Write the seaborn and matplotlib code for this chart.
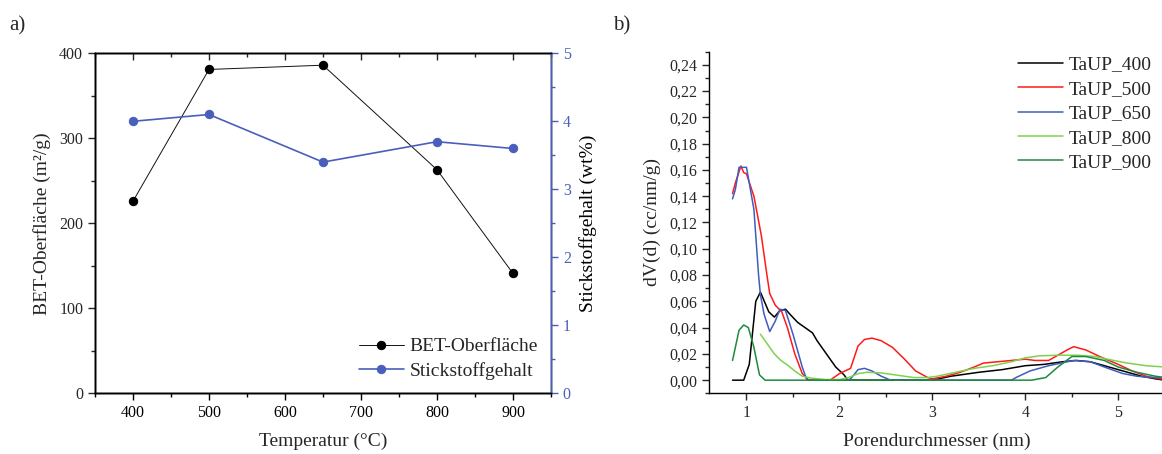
import numpy as np
import pandas as pd
import matplotlib
matplotlib.use("Agg")
import matplotlib.pyplot as plt
import seaborn as sns
from matplotlib.ticker import MultipleLocator, FuncFormatter

# ---------------- data: panel a ----------------
temperature = [400, 500, 650, 800, 900]
bet_surface = [226, 381, 386, 263, 141]
nitrogen = [4.0, 4.1, 3.4, 3.7, 3.6]

# ---------------- data: panel b ----------------
d_400 = [0.85, 0.97, 1.03, 1.10, 1.15, 1.24, 1.30, 1.36, 1.42, 1.47, 1.55, 1.63, 1.71, 1.76, 1.86, 1.96, 2.05, 2.09,
         2.5, 3.0, 3.2, 3.5, 3.75, 4.0, 4.2, 4.4, 4.55, 4.7, 4.9, 5.1, 5.25, 5.4, 5.5]
v_400 = [0.0, 0.0, 0.012, 0.060, 0.067, 0.052, 0.048, 0.053, 0.054, 0.050, 0.044, 0.040, 0.036, 0.030, 0.020, 0.010, 0.004, 0.0,
         0.0, 0.0, 0.003, 0.006, 0.008, 0.011, 0.012, 0.014, 0.015, 0.014, 0.010, 0.006, 0.003, 0.001, 0.0]

d_500 = [0.85, 0.88, 0.94, 0.97, 1.00, 1.08, 1.16, 1.22, 1.25, 1.31, 1.38, 1.44, 1.52, 1.60, 1.67, 1.90, 2.00, 2.12,
         2.20, 2.27, 2.35, 2.45, 2.57, 2.70, 2.82, 2.95, 3.00, 3.15, 3.30, 3.45, 3.55, 3.70, 3.85, 4.00, 4.10, 4.25,
         4.35, 4.45, 4.52, 4.65, 4.80, 5.00, 5.15, 5.30, 5.45, 5.5]
v_500 = [0.142, 0.150, 0.163, 0.158, 0.157, 0.140, 0.110, 0.080, 0.066, 0.057, 0.052, 0.040, 0.020, 0.005, 0.0, 0.0, 0.005, 0.009,
         0.026, 0.031, 0.032, 0.030, 0.025, 0.016, 0.007, 0.002, 0.001, 0.003, 0.006, 0.010, 0.013, 0.014, 0.015, 0.016, 0.015, 0.015,
         0.019, 0.023, 0.0255, 0.023, 0.018, 0.012, 0.007, 0.003, 0.001, 0.001]

d_650 = [0.85, 0.88, 0.92, 1.00, 1.08, 1.13, 1.15, 1.19, 1.25, 1.31, 1.36, 1.42, 1.50, 1.60, 1.65, 2.08, 2.12, 2.20,
         2.27, 2.35, 2.45, 2.55, 3.85, 3.90, 4.05, 4.25, 4.45, 4.52, 4.70, 4.85, 5.05, 5.20, 5.35, 5.5]
v_650 = [0.138, 0.145, 0.162, 0.162, 0.130, 0.080, 0.065, 0.050, 0.037, 0.045, 0.054, 0.053, 0.035, 0.010, 0.0, 0.0, 0.001, 0.008,
         0.009, 0.007, 0.003, 0.0, 0.0, 0.002, 0.007, 0.011, 0.014, 0.015, 0.014, 0.010, 0.005, 0.003, 0.002, 0.002]

d_800 = [1.15, 1.22, 1.30, 1.37, 1.45, 1.52, 1.60, 1.70, 1.85, 2.00, 2.10, 2.20, 2.30, 2.45, 2.60, 2.80, 2.95, 3.05,
         3.25, 3.45, 3.65, 3.85, 4.00, 4.15, 4.35, 4.55, 4.75, 4.95, 5.10, 5.30, 5.5]
v_800 = [0.035, 0.028, 0.020, 0.015, 0.011, 0.007, 0.003, 0.0015, 0.0005, 0.0005, 0.002, 0.005, 0.006, 0.0055, 0.004, 0.002, 0.002, 0.003,
         0.006, 0.009, 0.011, 0.014, 0.017, 0.0185, 0.019, 0.019, 0.018, 0.015, 0.013, 0.011, 0.010]

d_900 = [0.85, 0.92, 0.97, 1.02, 1.08, 1.14, 1.20, 4.07, 4.22, 4.35, 4.50, 4.65, 4.85, 5.00, 5.20, 5.40, 5.5]
v_900 = [0.015, 0.038, 0.042, 0.040, 0.025, 0.004, 0.0, 0.0, 0.002, 0.010, 0.018, 0.018, 0.015, 0.010, 0.006, 0.003, 0.002]

series_names = ["TaUP_400", "TaUP_500", "TaUP_650", "TaUP_800", "TaUP_900"]
series_colors = ["#000000", "#ff1a1a", "#3f5cbf", "#7fd24f", "#1f8a3c"]

# ---------------- style ----------------
sns.set_theme(style="ticks")
plt.rcParams["font.family"] = ["Liberation Serif", "DejaVu Serif"]
plt.rcParams["mathtext.fontset"] = "stix"

W, H = 1162, 454
fig = plt.figure(figsize=(W / 100, H / 100), dpi=100)

def fx(px):
    return px / W

def fy(py):
    return 1 - py / H

TICK_FS = 11.5
LAB_FS = 14
blue = "#4a5fbb"

# ---------------- panel a ----------------
ax1 = fig.add_axes([fx(95), fy(393.3), fx(551 - 95), (393.3 - 53.3) / H])
ax1r = ax1.twinx()
ax1t = ax1.twiny()

df_a = pd.DataFrame({"T": temperature, "BET": bet_surface, "N": nitrogen})
sns.lineplot(data=df_a, x="T", y="BET", ax=ax1, color="#111111", linewidth=0.7,
             marker="o", markersize=6, markeredgecolor="black", markerfacecolor="black",
             label="BET-Oberfläche", legend=False)
sns.lineplot(data=df_a, x="T", y="N", ax=ax1r, color=blue, linewidth=1.2,
             marker="o", markersize=6, markeredgecolor=blue, markerfacecolor=blue,
             label="Stickstoffgehalt", legend=False)

ax1.set_xlim(350, 950)
ax1t.set_xlim(350, 950)
ax1.set_ylim(0, 400)
ax1r.set_ylim(0, 5)
for a in (ax1, ax1t):
    a.xaxis.set_major_locator(MultipleLocator(100))
    a.xaxis.set_minor_locator(MultipleLocator(50))
ax1.yaxis.set_major_locator(MultipleLocator(100))
ax1.yaxis.set_minor_locator(MultipleLocator(50))
ax1r.yaxis.set_major_locator(MultipleLocator(1))
ax1r.yaxis.set_minor_locator(MultipleLocator(0.5))

for a in (ax1, ax1r, ax1t):
    for s in a.spines.values():
        s.set_linewidth(1.0)
        s.set_color("black")
ax1r.spines["right"].set_color(blue)
ax1t.spines["right"].set_color(blue)

ax1.tick_params(axis="x", which="both", direction="out", top=False, labelsize=TICK_FS, colors="black", width=1.0)
ax1.tick_params(axis="x", which="major", length=5)
ax1.tick_params(axis="x", which="minor", length=3)
ax1t.tick_params(axis="x", which="both", direction="in", top=True, labeltop=False, width=1.0)
ax1t.tick_params(axis="x", which="major", length=5)
ax1t.tick_params(axis="x", which="minor", length=3)
ax1.tick_params(axis="y", which="major", direction="out", length=5, width=1.0, labelsize=TICK_FS)
ax1.tick_params(axis="y", which="minor", direction="out", length=3, width=1.0)
ax1r.tick_params(axis="y", which="major", direction="out", length=5, width=1.0, colors=blue, labelsize=TICK_FS)
ax1r.tick_params(axis="y", which="minor", direction="out", length=3, width=1.0, colors=blue)

ax1.set_xlabel("Temperatur (°C)", fontsize=LAB_FS, labelpad=8)
ax1.set_ylabel("BET-Oberfläche (m²/g)", fontsize=LAB_FS, labelpad=6)
ax1r.set_ylabel("Stickstoffgehalt (wt%)", fontsize=LAB_FS, labelpad=6, color="black")

h1, l1 = ax1.get_legend_handles_labels()
h2, l2 = ax1r.get_legend_handles_labels()
ax1t.legend(h1 + h2, l1 + l2, loc="lower right", frameon=False, fontsize=LAB_FS,
            bbox_to_anchor=(fx(538), fy(380)), bbox_transform=fig.transFigure,
            borderpad=0, borderaxespad=0, handlelength=2.3, handletextpad=0.3, labelspacing=0.35)

# ---------------- panel b ----------------
ax2 = fig.add_axes([fx(709.3), fy(393.3), (1164.75 - 709.3) / W, (393.3 - 51.7) / H])

rows = []
for name, xs, ys in zip(series_names, [d_400, d_500, d_650, d_800, d_900], [v_400, v_500, v_650, v_800, v_900]):
    for x, y in zip(xs, ys):
        rows.append((name, x, y))
df_b = pd.DataFrame(rows, columns=["sample", "d", "dv"])
sns.lineplot(data=df_b, x="d", y="dv", hue="sample", hue_order=series_names,
             palette=dict(zip(series_names, series_colors)), estimator=None, sort=False,
             linewidth=1.1, ax=ax2)

ax2.set_xlim(0.6, 5.5)
ax2.set_ylim(-0.01, 0.25)
ax2.xaxis.set_major_locator(MultipleLocator(1))
ax2.xaxis.set_minor_locator(MultipleLocator(0.5))
ax2.yaxis.set_major_locator(MultipleLocator(0.02))
ax2.yaxis.set_minor_locator(MultipleLocator(0.01))
ax2.yaxis.set_major_formatter(FuncFormatter(lambda v, p: f"{v:.2f}".replace(".", ",")))
ax2.set_yticks(np.arange(0, 0.2401, 0.02))
ax2.spines["top"].set_visible(False)
ax2.spines["right"].set_visible(False)
for s in ("left", "bottom"):
    ax2.spines[s].set_linewidth(1.0)
    ax2.spines[s].set_color("black")
ax2.tick_params(axis="both", which="major", direction="out", length=5, width=1.0, labelsize=TICK_FS)
ax2.tick_params(axis="both", which="minor", direction="out", length=3, width=1.0)

ax2.set_xlabel("Porendurchmesser (nm)", fontsize=LAB_FS, labelpad=8)
ax2.set_ylabel("dV(d) (cc/nm/g)", fontsize=LAB_FS, labelpad=6)

ax2.legend(loc="upper right", frameon=False, fontsize=LAB_FS,
           bbox_to_anchor=(fx(1152), fy(56)), bbox_transform=fig.transFigure,
           borderpad=0, borderaxespad=0, handlelength=2.3, handletextpad=0.3, labelspacing=0.35)
for line in ax2.get_legend().get_lines():
    line.set_linewidth(1.1)

# panel letters
fig.text(fx(9), fy(30), "a)", fontsize=15)
fig.text(fx(613), fy(30), "b)", fontsize=15)

fig.savefig("out.png", dpi=100)
